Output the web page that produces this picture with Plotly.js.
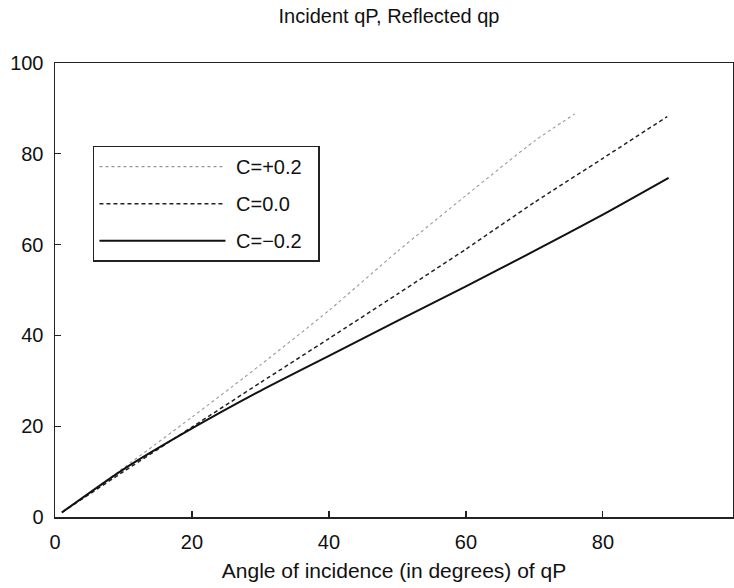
<!DOCTYPE html>
<html>
<head>
<meta charset="utf-8">
<script src="https://cdn.plot.ly/plotly-3.0.1.min.js"></script>
<style>html,body{margin:0;padding:0;overflow:hidden;background:#fff;}</style>
</head>
<body>
<div id="chart" style="width:734px;height:588px;"></div>
<script>
// Angle of incidence (degrees) and reflected qP angle for each anisotropy value C
const xPos = [1, 10, 20, 30, 40, 50, 60, 70, 75.9];
const yPos = [1, 10.8, 22, 33.5, 45.5, 58.5, 70.8, 82.8, 88.8];   // C=+0.2

const xZero = [1, 10, 20, 30, 40, 50, 60, 70, 80, 89.4];
const yZero = [1, 10, 19.8, 29.6, 39.3, 49.1, 59, 69.3, 79, 88.2]; // C=0.0

const xNeg = [1, 10, 20, 30, 40, 50, 60, 70, 80, 89.6];
const yNeg = [1, 10.5, 19.5, 27.8, 35.5, 43.2, 50.8, 58.6, 66.6, 74.7]; // C=-0.2

const names = ["C=+0.2", "C=0.0", "C=\u22120.2"];
const xTicks = [0, 20, 40, 60, 80];
const yTicks = [0, 20, 40, 60, 80, 100];

const FONT = "Liberation Sans, Arial, Helvetica, sans-serif";
const pad = s => "\u00a0" + s + "\u00a0\u00a0";

const traces = [
  {x: xPos, y: yPos, name: pad(names[0]), legendgroup: "a", mode: "lines",
   line: {color: "#999", width: 1.1, dash: "dot", shape: "spline", smoothing: 0.6}},
  {x: xZero, y: yZero, name: pad(names[1]), legendgroup: "b", mode: "lines",
   line: {color: "#222", width: 1.5, dash: "4px,3px", shape: "spline", smoothing: 0.6}},
  {x: xNeg, y: yNeg, name: pad(names[2]), legendgroup: "c", mode: "lines",
   line: {color: "#111", width: 2, shape: "spline", smoothing: 0.6}}
];

const axisCommon = {
  showgrid: false, zeroline: false, showline: true, mirror: true,
  linecolor: "#222", linewidth: 1.5, ticks: "inside", ticklen: 6,
  tickcolor: "#222", tickwidth: 1.2,
  tickfont: {family: FONT, size: 20, color: "#111"}
};

const layout = {
  width: 734, height: 588,
  margin: {l: 55, r: 1, t: 63, b: 71},
  paper_bgcolor: "#fff", plot_bgcolor: "#fff",
  font: {family: FONT, color: "#111"},
  title: {text: "Incident qP, Reflected qp", font: {family: FONT, size: 20, color: "#111"},
          x: 0.53, xanchor: "center", y: 0.973, yanchor: "middle"},
  xaxis: Object.assign({}, axisCommon, {
    range: [0, 99], tickvals: xTicks, ticktext: xTicks.map(String),
    ticklabelstandoff: 6,
    title: {text: "Angle of incidence (in degrees) of qP", font: {family: FONT, size: 21, color: "#111"}, standoff: 12}
  }),
  yaxis: Object.assign({}, axisCommon, {
    range: [0, 100], tickvals: yTicks, ticktext: yTicks.map(String),
    ticklabelstandoff: 6
  }),
  showlegend: true,
  legend: {
    x: 0.056, y: 0.818, xanchor: "left", yanchor: "top",
    bordercolor: "#222", borderwidth: 1.5, bgcolor: "#fff",
    font: {family: FONT, size: 20, color: "#111"},
    traceorder: "grouped", tracegroupgap: 8, itemwidth: 126
  }
};

Plotly.newPlot("chart", traces, layout, {displayModeBar: false, staticPlot: true});
</script>
</body>
</html>
